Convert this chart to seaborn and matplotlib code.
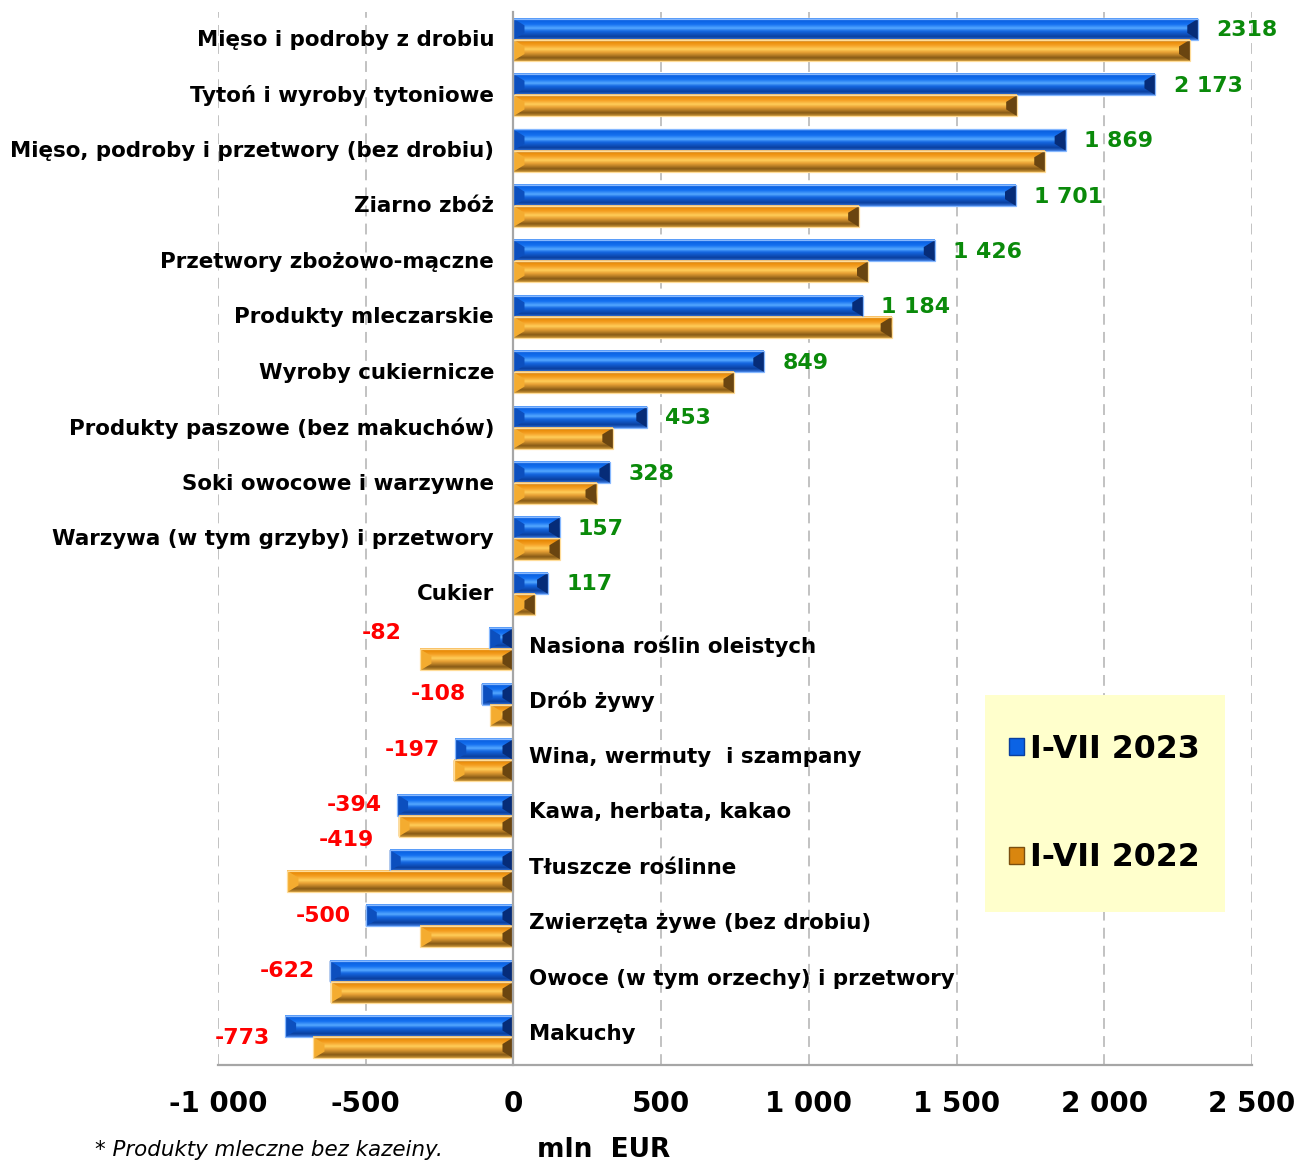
"""Bilans handlu rolno-spożywczego: saldo wg grup produktów, I-VII 2023 vs I-VII 2022."""

import matplotlib.pyplot as plt
import numpy as np
import pandas as pd
import seaborn as sns
from matplotlib.colors import LinearSegmentedColormap
from matplotlib.patches import Patch, Polygon, Rectangle
from matplotlib.ticker import FuncFormatter, MultipleLocator

categories = [
    "Mięso i podroby z drobiu",
    "Tytoń i wyroby tytoniowe",
    "Mięso, podroby i przetwory (bez drobiu)",
    "Ziarno zbóż",
    "Przetwory zbożowo-mączne",
    "Produkty mleczarskie",
    "Wyroby cukiernicze",
    "Produkty paszowe (bez makuchów)",
    "Soki owocowe i warzywne",
    "Warzywa (w tym grzyby) i przetwory",
    "Cukier",
    "Nasiona roślin oleistych",
    "Drób żywy",
    "Wina, wermuty  i szampany",
    "Kawa, herbata, kakao",
    "Tłuszcze roślinne",
    "Zwierzęta żywe (bez drobiu)",
    "Owoce (w tym orzechy) i przetwory",
    "Makuchy",
]
values_2023 = [2318, 2173, 1869, 1701, 1426, 1184, 849, 453, 328, 157, 117,
               -82, -108, -197, -394, -419, -500, -622, -773]
values_2022 = [2290, 1705, 1800, 1170, 1200, 1280, 748, 338, 281, 159, 74,
               -315, -78, -203, -389, -765, -315, -619, -677]
value_labels = ["2318", "2 173", "1 869", "1 701", "1 426", "1 184", "849", "453",
                "328", "157", "117", "-82", "-108", "-197", "-394", "-419", "-500",
                "-622", "-773"]
series_names = ["I-VII 2023", "I-VII 2022"]

# manual label nudges (points) where the original labels were moved by hand
label_nudge = {"-82": (-52, 4), "-419": (0, 15), "-773": (0, -8)}

df = pd.concat([
    pd.DataFrame({"Grupa": categories, "Okres": series_names[0], "Saldo": values_2023}),
    pd.DataFrame({"Grupa": categories, "Okres": series_names[1], "Saldo": values_2022}),
])

sns.set_style("white")
plt.rcParams["font.family"] = ["DejaVu Sans"]
plt.rcParams["text.color"] = "black"
plt.rcParams["xtick.labelcolor"] = "black"

BLUE = "#0B63E5"
ORANGE = "#EE9A1A"
palette = {series_names[0]: BLUE, series_names[1]: ORANGE}

fig = plt.figure(figsize=(12.98, 11.62), dpi=100)
ax = fig.add_axes([0.168, 0.0835, 0.7966, 0.9062])

BAR_WIDTH = 0.76
sns.barplot(
    data=df,
    x="Saldo",
    y="Grupa",
    hue="Okres",
    order=categories,
    hue_order=series_names,
    palette=palette,
    orient="h",
    width=BAR_WIDTH,
    legend=False,
    ax=ax,
    zorder=3,
)

xmin, xmax = -1000, 2500
ax.set_xlim(xmin, xmax)
ax.set_ylim(len(categories) - 0.5, -0.5)

# bevel-like look: vertical gradient + end facets on every bar
blue_cmap = LinearSegmentedColormap.from_list("b", [
    (0.0, "#6AAAFF"), (0.08, "#0A60E0"), (0.28, "#1470F0"), (0.46, "#55A8FF"),
    (0.6, "#1466E0"), (0.86, "#0A3F9E"), (1.0, "#3B7BE0")])
orange_cmap = LinearSegmentedColormap.from_list("o", [
    (0.0, "#FFD080"), (0.08, "#E68600"), (0.28, "#F5A024"), (0.46, "#FFCD5A"),
    (0.6, "#E9A235"), (0.86, "#875A16"), (1.0, "#C99436")])
facets = {
    BLUE: ("#0C4FBE", "#062C78", "#86B8FF"),
    ORANGE: ("#F4AC30", "#6A4510", "#FFDC98"),
}

pos = ax.get_position()
units_per_px = (xmax - xmin) / (pos.width * fig.get_figwidth() * fig.dpi)
bevel = 11 * units_per_px
grad = np.linspace(0, 1, 64).reshape(-1, 1)

for container, color, cmap in zip(ax.containers, [BLUE, ORANGE], [blue_cmap, orange_cmap]):
    left_c, right_c, edge_c = facets[color]
    for p in container:
        x, w, y0, h = p.get_x(), p.get_width(), p.get_y(), p.get_height()
        x0, x1 = min(x, x + w), max(x, x + w)
        ax.imshow(grad, cmap=cmap, extent=(x0, x1, y0 + h, y0), origin="upper",
                  aspect="auto", interpolation="bilinear", zorder=2)
        b = min(bevel, (x1 - x0) / 2)
        t = 0.32 * h
        ax.add_patch(Polygon([(x0, y0), (x0 + b, y0 + t), (x0 + b, y0 + h - t), (x0, y0 + h)],
                             closed=True, facecolor=left_c, edgecolor="none", zorder=2.5))
        ax.add_patch(Polygon([(x1, y0), (x1 - b, y0 + t), (x1 - b, y0 + h - t), (x1, y0 + h)],
                             closed=True, facecolor=right_c, edgecolor="none", zorder=2.5))
        p.set_facecolor("none")
        p.set_edgecolor(edge_c)
        p.set_linewidth(0.9)

ax.set_xlim(xmin, xmax)
ax.set_ylim(len(categories) - 0.5, -0.5)

# axes styling
for side in ["top", "right"]:
    ax.spines[side].set_visible(False)
ax.spines["left"].set_position(("data", 0))
ax.spines["left"].set_color("#A6A6A6")
ax.spines["left"].set_linewidth(1.6)
ax.spines["left"].set_zorder(4)
ax.spines["bottom"].set_color("#A6A6A6")
ax.spines["bottom"].set_linewidth(1.6)

ax.set_yticks([])
ax.set_yticks(np.arange(-0.5, len(categories)), minor=True)
ax.tick_params(axis="y", which="minor", length=5, width=1.3, color="#A6A6A6", direction="out")
ax.xaxis.set_major_locator(MultipleLocator(500))
ax.xaxis.set_major_formatter(FuncFormatter(lambda v, _: f"{v:,.0f}".replace(",", " ")))
ax.tick_params(axis="x", length=7, width=1.3, color="#A6A6A6", pad=11, labelcolor="black")
for lbl in ax.get_xticklabels():
    lbl.set_fontsize(20)
    lbl.set_fontweight("bold")
ax.set_xlabel("")
ax.set_ylabel("")
ax.grid(axis="x", color="#BDBDBD", linestyle=(0, (6, 4)), linewidth=1.3, zorder=0)
ax.set_axisbelow(True)

# category labels and value labels
for i, (cat, v, lab) in enumerate(zip(categories, values_2023, value_labels)):
    y_blue = i - BAR_WIDTH / 4
    if v >= 0:
        ax.annotate(cat, xy=(0, i + 0.01), xytext=(-14, 0), textcoords="offset points",
                    ha="right", va="center", fontsize=15.4, fontweight="bold", color="black")
        ax.annotate(lab, xy=(v, y_blue + 0.02), xytext=(13, 0), textcoords="offset points",
                    ha="left", va="center", fontsize=15.8, fontweight="bold", color="#0A8A0A")
    else:
        ax.annotate(cat, xy=(0, i - 0.06), xytext=(11, 0), textcoords="offset points",
                    ha="left", va="center", fontsize=15.4, fontweight="bold", color="black")
        dx, dy = label_nudge.get(lab, (0, 0))
        ax.annotate(lab, xy=(v, y_blue), xytext=(-11 + dx, dy), textcoords="offset points",
                    ha="right", va="center", fontsize=15.8, fontweight="bold", color="#FF0000")

# legend on a pale yellow panel
fig.patches.append(Rectangle((0.759, 0.215), 0.185, 0.187, transform=fig.transFigure,
                             facecolor="#FFFFCC", edgecolor="none", zorder=5))
handles = [Patch(facecolor=BLUE, edgecolor="#0A3F9E"), Patch(facecolor="#D9860F", edgecolor="#7A4F10")]
leg = fig.legend(handles, series_names, loc="center", bbox_to_anchor=(0.851, 0.3085),
                 frameon=False, prop={"size": 22.8, "weight": "bold"}, handlelength=0.45,
                 handleheight=0.45, handletextpad=0.2, labelspacing=2.45)
leg.set_zorder(6)
for txt in leg.get_texts():
    txt.set_color("black")

fig.text(0.073, 0.0105, "* Produkty mleczne bez kazeiny.", fontsize=15.4, style="italic",
         ha="left", va="center", color="black")
fig.text(0.465, 0.0105, "mln  EUR", fontsize=19, fontweight="bold", ha="center", va="center",
         color="black")

fig.savefig("out.png", dpi=100)
